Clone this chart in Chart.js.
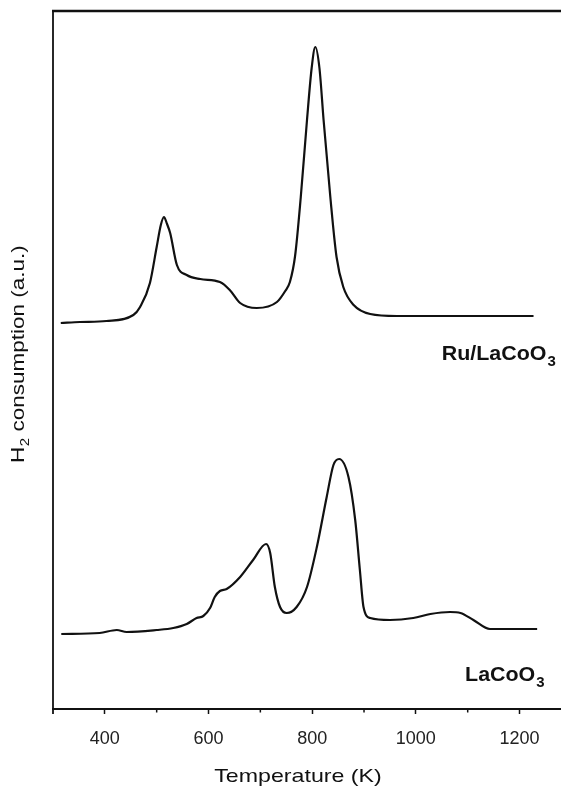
<!DOCTYPE html>
<html>
<head>
<meta charset="utf-8">
<title>H2-TPR profiles</title>
<script src="https://cdn.jsdelivr.net/npm/chart.js@4.4.1/dist/chart.umd.min.js"></script>
<style>
  html, body { margin: 0; padding: 0; background: #fff; }
  #wrap { width: 561px; height: 790px; }
</style>
</head>
<body>
<div id="wrap"><canvas id="tpr" width="561" height="790"></canvas></div>
<script>
// TPR traces: temperature (K) vs H2 consumption (a.u., stacked offsets kept)
const ruTemp = [315, 352, 403, 455, 468, 487, 500, 508, 514, 520, 526, 539, 558, 584, 622, 641, 661, 693, 732,
  748, 757, 767, 778, 790, 799, 806, 814, 822, 835, 847, 860, 880, 912, 963, 1060, 1227];
const ruSignal = [386, 387, 388, 394, 402, 426, 462, 484, 492, 485, 476, 444, 434, 430, 427, 419, 406, 401, 407,
  418, 427, 453, 512, 589, 641, 662, 641, 589, 512, 452, 422, 404, 395, 393, 393, 393];

const laTemp = [316, 390, 423, 442, 500, 532, 558, 577, 590, 603, 612, 622, 635, 661, 686, 711, 719, 728, 738, 751,
  770, 790, 809, 828, 841, 852, 870, 883, 892, 899, 912, 950, 995, 1028, 1066, 1086, 1111, 1143, 1188, 1234];
const laSignal = [75, 76, 79, 77, 79, 81, 85, 91, 93, 101, 112, 118, 120, 132, 149, 165, 156, 122, 102, 96,
  102, 122, 162, 212, 244, 250, 232, 189, 139, 102, 91, 89, 91, 95, 97, 96, 89, 80, 80, 80];

const majorTicks = [400, 600, 800, 1000, 1200];
const minorTicks = [500, 700, 900, 1100];
const seriesNames = ["Ru/LaCoO", "LaCoO"]; // both get a subscript 3

const FONT = '"Liberation Sans", Arial, Helvetica, sans-serif';
const INK = '#111';

const toPoints = (xs, ys) => xs.map((t, i) => ({ x: t, y: ys[i] }));

// draws "main" + subscript, optionally stretched horizontally like the original figure
function subText(ctx, main, sub, x, y, size, weight, stretch) {
  ctx.save();
  ctx.translate(x, y);
  ctx.scale(stretch, 1);
  ctx.font = `${weight} ${size}px ${FONT}`;
  ctx.fillText(main, 0, 0);
  const w = ctx.measureText(main).width;
  ctx.font = `${weight} ${Math.round(size * 0.68)}px ${FONT}`;
  ctx.fillText(sub, w + 1, size * 0.3);
  ctx.restore();
}

const decorations = {
  id: 'decorations',
  afterDraw(chart) {
    const { ctx, chartArea: a, scales: { x, y } } = chart;
    ctx.save();
    ctx.strokeStyle = INK;

    // top frame line and left axis
    ctx.lineWidth = 2.5;
    ctx.beginPath();
    ctx.moveTo(a.left - 1, a.top);
    ctx.lineTo(a.right, a.top);
    ctx.stroke();
    ctx.lineWidth = 1.8;
    ctx.beginPath();
    ctx.moveTo(a.left, a.top);
    ctx.lineTo(a.left, a.bottom + 5);
    ctx.stroke();

    // short minor ticks
    ctx.lineWidth = 1.5;
    ctx.beginPath();
    minorTicks.forEach(v => {
      const px = x.getPixelForValue(v);
      ctx.moveTo(px, a.bottom);
      ctx.lineTo(px, a.bottom + 3.5);
    });
    ctx.stroke();

    ctx.fillStyle = INK;
    ctx.textAlign = 'left';
    ctx.textBaseline = 'alphabetic';

    // series labels
    subText(ctx, seriesNames[0], '3', x.getPixelForValue(1050), y.getPixelForValue(349), 20, 'bold', 1.07);
    subText(ctx, seriesNames[1], '3', x.getPixelForValue(1095), y.getPixelForValue(28), 20, 'bold', 1.07);

    // x title
    ctx.save();
    ctx.font = `19px ${FONT}`;
    const title = 'Temperature (K)';
    const tw = ctx.measureText(title).width * 1.22;
    ctx.translate((a.left + a.right) / 2 - 9 - tw / 2, 782);
    ctx.scale(1.22, 1);
    ctx.fillText(title, 0, 0);
    ctx.restore();

    // y title, rotated
    ctx.save();
    ctx.translate(24, 463);
    ctx.rotate(-Math.PI / 2);
    ctx.scale(1.25, 1);
    ctx.font = `18px ${FONT}`;
    ctx.fillText('H', 0, 0);
    let w = ctx.measureText('H').width;
    ctx.font = `12px ${FONT}`;
    ctx.fillText('2', w + 0.5, 5);
    w += ctx.measureText('2').width + 0.5;
    ctx.font = `18px ${FONT}`;
    ctx.fillText(' consumption (a.u.)', w, 0);
    ctx.restore();

    ctx.restore();
  }
};

const lineStyle = {
  borderColor: INK,
  borderWidth: 2.2,
  pointRadius: 0,
  fill: false,
  cubicInterpolationMode: 'monotone'
};

new Chart(document.getElementById('tpr'), {
  type: 'line',
  data: {
    datasets: [
      { label: 'Ru/LaCoO3', data: toPoints(ruTemp, ruSignal), ...lineStyle },
      { label: 'LaCoO3', data: toPoints(laTemp, laSignal), ...lineStyle }
    ]
  },
  options: {
    responsive: false,
    animation: false,
    layout: { padding: { top: 11, left: 53, right: 0, bottom: 0 } },
    plugins: { legend: { display: false }, tooltip: { enabled: false } },
    scales: {
      x: {
        type: 'linear',
        min: 300,
        max: 1280,
        afterBuildTicks: s => { s.ticks = majorTicks.map(v => ({ value: v })); },
        afterFit: s => { s.height = 81; },
        border: { display: true, color: INK, width: 2 },
        grid: { drawOnChartArea: false, tickLength: 5, tickWidth: 1.5, tickColor: INK },
        ticks: {
          color: '#222',
          font: { family: FONT, size: 18 },
          padding: 14,
          maxRotation: 0,
          autoSkip: false,
          callback: v => String(v)
        }
      },
      y: {
        display: false,
        min: 0,
        max: 698
      }
    }
  },
  plugins: [decorations]
});
</script>
</body>
</html>
